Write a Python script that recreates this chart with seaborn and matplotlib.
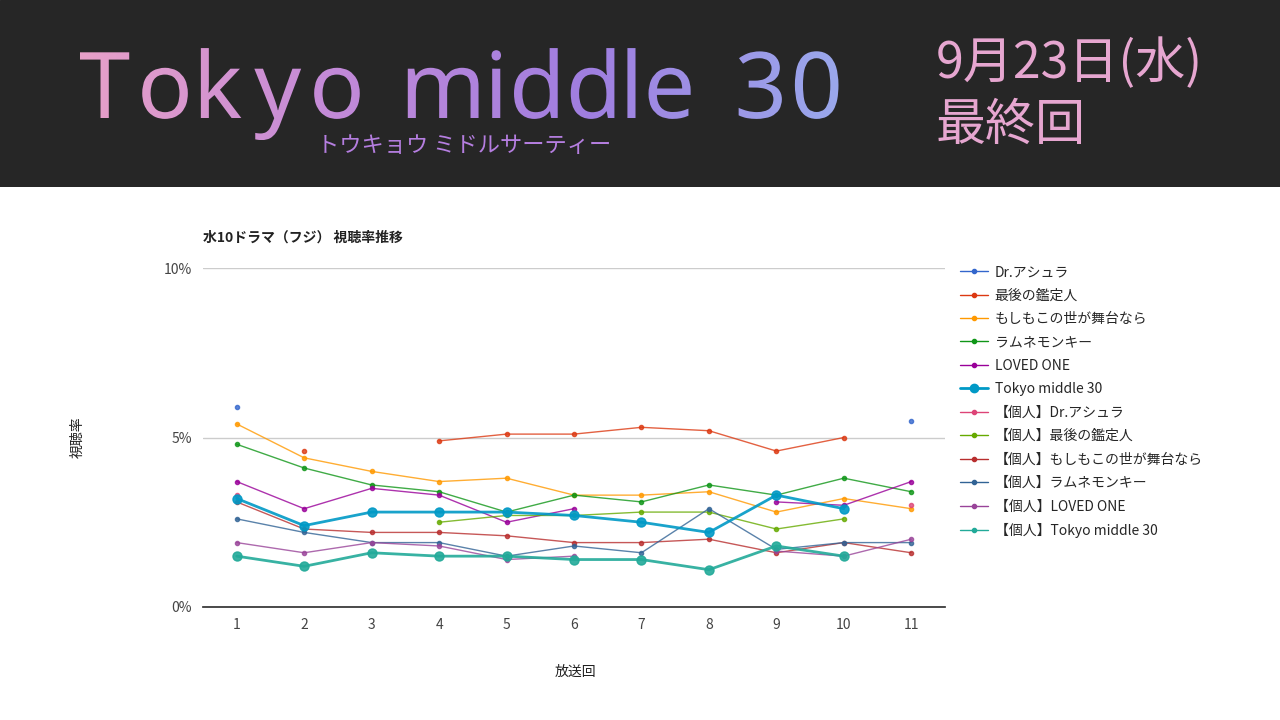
import numpy as np
import matplotlib
matplotlib.use('Agg')
import matplotlib.pyplot as plt
import seaborn as sns
from matplotlib.textpath import TextPath
from matplotlib.patches import PathPatch
from matplotlib.path import Path
from matplotlib.font_manager import FontProperties
from matplotlib.colors import LinearSegmentedColormap
from matplotlib.lines import Line2D

sns.set_theme(style='white')
plt.rcParams['font.family'] = ['Noto Sans CJK JP', 'DejaVu Sans']

nan = np.nan
episodes = list(range(1, 12))
names = ['Dr.アシュラ', '最後の鑑定人', 'もしもこの世が舞台なら', 'ラムネモンキー', 'LOVED ONE', 'Tokyo middle 30',
         '【個人】Dr.アシュラ', '【個人】最後の鑑定人', '【個人】もしもこの世が舞台なら', '【個人】ラムネモンキー',
         '【個人】LOVED ONE', '【個人】Tokyo middle 30']
colors = ['#3366cc', '#dc3912', '#ff9900', '#109618', '#990099', '#0099c6',
          '#dd4477', '#66aa00', '#b82e2e', '#316395', '#994499', '#22aa99']

dr_ashura = [5.9, nan, nan, nan, nan, nan, nan, nan, nan, nan, 5.5]
kanteinin = [nan, 4.6, nan, 4.9, 5.1, 5.1, 5.3, 5.2, 4.6, 5.0, nan]
moshimo = [5.4, 4.4, 4.0, 3.7, 3.8, 3.3, 3.3, 3.4, 2.8, 3.2, 2.9]
ramune = [4.8, 4.1, 3.6, 3.4, 2.8, 3.3, 3.1, 3.6, 3.3, 3.8, 3.4]
loved_one = [3.7, 2.9, 3.5, 3.3, 2.5, 2.9, nan, nan, 3.1, 3.0, 3.7]
tokyo = [3.2, 2.4, 2.8, 2.8, 2.8, 2.7, 2.5, 2.2, 3.3, 2.9, nan]
p_dr_ashura = [3.3, nan, nan, nan, nan, nan, nan, nan, nan, nan, 3.0]
p_kanteinin = [nan, nan, nan, 2.5, 2.7, 2.7, 2.8, 2.8, 2.3, 2.6, nan]
p_moshimo = [3.1, 2.3, 2.2, 2.2, 2.1, 1.9, 1.9, 2.0, 1.6, 1.9, 1.6]
p_ramune = [2.6, 2.2, 1.9, 1.9, 1.5, 1.8, 1.6, 2.9, 1.7, 1.9, 1.9]
p_loved_one = [1.9, 1.6, 1.9, 1.8, 1.4, 1.5, nan, nan, 1.65, 1.5, 2.0]
p_tokyo = [1.5, 1.2, 1.6, 1.5, 1.5, 1.4, 1.4, 1.1, 1.8, 1.5, nan]
series = [dr_ashura, kanteinin, moshimo, ramune, loved_one, tokyo,
          p_dr_ashura, p_kanteinin, p_moshimo, p_ramune, p_loved_one, p_tokyo]
big_ones = ['Tokyo middle 30', '【個人】Tokyo middle 30']

fig = plt.figure(figsize=(12.8, 7.2), dpi=100)
fig.patch.set_facecolor('white')

# header band, coords in pixels (y up)
hdr = fig.add_axes([0, 1 - 187 / 720, 1, 187 / 720])
hdr.axis('off')
hdr.add_patch(plt.Rectangle((0, 533), 1280, 187, color='#262626', zorder=0))

# gradient title, letter-spaced
fp = FontProperties(family='Noto Sans', weight='bold')
title = 'Tokyo middle 30'
size, spacing, space_w, x, base = 92, 13, 22, 80, 602
verts, codes = [], []
for ch in title:
    if ch == ' ':
        x += space_w + spacing
        continue
    tp = TextPath((0, 0), ch, size=size, prop=fp)
    e = tp.get_extents()
    v = tp.vertices.copy()
    v[:, 0] += x - e.x0
    v[:, 1] += base
    verts.append(v)
    codes.append(np.asarray(tp.codes))
    x += e.width + spacing
title_path = Path(np.vstack(verts), np.concatenate(codes))
ext = title_path.get_extents()
grad = np.linspace(0, 1, 256).reshape(1, -1)
cmap = LinearSegmentedColormap.from_list('g', ['#e8a0c8', '#c38ad8', '#a07ee0', '#9aa8ec'])
im = hdr.imshow(grad, cmap=cmap, extent=[ext.x0, ext.x1, ext.y0, ext.y1], aspect='auto', zorder=2)
pp = PathPatch(title_path, facecolor='none', edgecolor='none', transform=hdr.transData)
hdr.add_patch(pp)
im.set_clip_path(pp)
hdr.set_xlim(0, 1280)
hdr.set_ylim(533, 720)

fig.text(464 / 1280, 1 - 145 / 720, 'トウキョウ ミドルサーティー', color='#b57ee0', fontsize=16,
         ha='center', va='center')
fig.text(936 / 1280, 1 - 64 / 720, '9月23日(水)', color='#e6a6d0', fontsize=36, ha='left', va='center')
fig.text(936 / 1280, 1 - 126 / 720, '最終回', color='#e6a6d0', fontsize=36, ha='left', va='center')

# chart
ax = fig.add_axes([203 / 1280, 113 / 720, 742 / 1280, 339 / 720])
for name, vals, col in zip(names, series, colors):
    big = name in big_ones
    ax.plot(episodes, vals, color=col, lw=2 if big else 1, marker='o', ms=6.5 if big else 3,
            alpha=0.9 if big else 0.8, label=name, zorder=3 if big else 2)
ax.set_xlim(0.5, 11.5)
ax.set_ylim(0, 10)
ax.set_xticks(episodes)
ax.set_yticks([0, 5, 10])
ax.set_yticklabels(['0%', '5%', '10%'])
ax.tick_params(axis='both', length=0, labelsize=10, colors='#444444', pad=8)
ax.grid(axis='y', color='#cccccc', lw=1)
for s in ['top', 'right', 'left']:
    ax.spines[s].set_visible(False)
ax.spines['bottom'].set_color('#333333')
ax.set_facecolor('white')

fig.text(203 / 1280, 1 - 238 / 720, '水10ドラマ（フジ） 視聴率推移', fontsize=10, weight='bold',
         color='#222222', va='center')
fig.text(78 / 1280, 1 - 437 / 720, '視聴率', fontsize=10, style='italic', rotation=90,
         color='#222222', ha='center', va='center')
fig.text(575 / 1280, 1 - 672 / 720, '放送回', fontsize=10, style='italic',
         color='#222222', ha='center', va='center')

handles = []
for name, col in zip(names, colors):
    big = name == 'Tokyo middle 30'
    handles.append(Line2D([], [], color=col, lw=2 if big else 1, marker='o', ms=6 if big else 3))
fig.legend(handles, names, loc='upper left', bbox_to_anchor=(960 / 1280, 1 - 265 / 720),
           frameon=False, fontsize=10, handlelength=2, labelspacing=0.68, handletextpad=0.5,
           borderpad=0, borderaxespad=0)

fig.savefig('out.png', dpi=100)
